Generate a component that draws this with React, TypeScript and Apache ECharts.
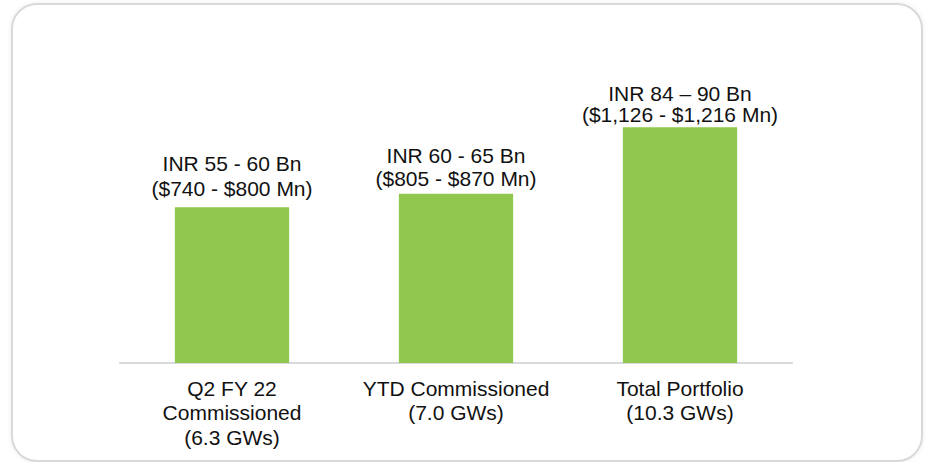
import React, { useEffect, useRef } from "react";
import * as echarts from "echarts";

const categories = [
  "Q2 FY 22\nCommissioned\n(6.3 GWs)",
  "YTD Commissioned\n(7.0 GWs)",
  "Total Portfolio\n(10.3 GWs)",
];
const values = [57.5, 62.5, 87];
const valueLabels = [
  "INR 55 - 60 Bn\n($740 - $800 Mn)",
  "INR 60 - 65 Bn\n($805 - $870 Mn)",
  "INR 84 \u2013 90 Bn\n($1,126 - $1,216 Mn)",
];

export default function App() {
  const ref = useRef<HTMLDivElement>(null);
  useEffect(() => {
    if (!ref.current) return;
    const chart = echarts.init(ref.current, undefined, { renderer: "svg" });
    const font = "'Liberation Sans', Arial, sans-serif";
    const labelLayouts = [
      { lineHeight: 25, distance: 6 },
      { lineHeight: 22.5, distance: 4 },
      { lineHeight: 21, distance: 2 },
    ];
    chart.setOption({
      animation: false,
      backgroundColor: "#ffffff",
      graphic: [
        {
          type: "rect",
          shape: { x: 12, y: 4, width: 910, height: 457, r: 25 },
          style: {
            fill: "#ffffff",
            stroke: "#d9d9d9",
            lineWidth: 2,
            shadowBlur: 4,
            shadowColor: "rgba(0,0,0,0.08)",
          },
          z: -10,
          silent: true,
        },
      ],
      grid: { left: 120, right: 133, top: 92, bottom: 99 },
      xAxis: {
        type: "category",
        data: categories,
        axisLine: { lineStyle: { color: "#d9d9d9", width: 2 } },
        axisTick: { show: false },
        axisLabel: {
          color: "#111111",
          fontFamily: font,
          fontSize: 21,
          lineHeight: 24.5,
          margin: 13,
          interval: 0,
        },
      },
      yAxis: {
        type: "value",
        min: 0,
        max: 100,
        show: false,
        splitLine: { show: false },
      },
      series: [
        {
          type: "bar",
          data: values.map((v, i) => ({
            value: v,
            label: {
              lineHeight: labelLayouts[i].lineHeight,
              distance: labelLayouts[i].distance,
            },
          })),
          barWidth: "51%",
          itemStyle: { color: "#8fc74f" },
          label: {
            show: true,
            position: "top",
            color: "#111111",
            fontFamily: font,
            fontSize: 21,
            formatter: (p: any) => valueLabels[p.dataIndex],
          },
        },
      ],
    });
    return () => chart.dispose();
  }, []);
  return (
    <div
      ref={ref}
      style={{ position: "absolute", left: 0, top: 0, width: 925, height: 462 }}
    />
  );
}
